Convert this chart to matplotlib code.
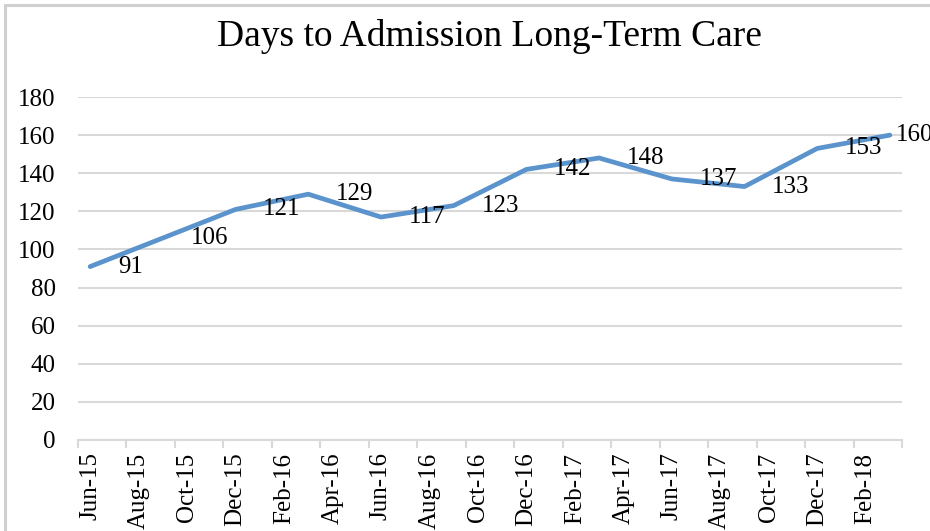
import matplotlib
matplotlib.use("Agg")
import matplotlib.pyplot as plt
from matplotlib.patches import Rectangle
import numpy as np

# ---- data ----
months = ["Jun-15", "Jul-15", "Aug-15", "Sep-15", "Oct-15", "Nov-15", "Dec-15",
          "Jan-16", "Feb-16", "Mar-16", "Apr-16", "May-16", "Jun-16", "Jul-16",
          "Aug-16", "Sep-16", "Oct-16", "Nov-16", "Dec-16", "Jan-17", "Feb-17",
          "Mar-17", "Apr-17", "May-17", "Jun-17", "Jul-17", "Aug-17", "Sep-17",
          "Oct-17", "Nov-17", "Dec-17", "Jan-18", "Feb-18", "Mar-18"]
point_months = ["Jun-15", "Sep-15", "Dec-15", "Mar-16", "Jun-16", "Sep-16",
                "Dec-16", "Mar-17", "Jun-17", "Sep-17", "Dec-17", "Mar-18"]
days = [91, 106, 121, 129, 117, 123, 142, 148, 137, 133, 153, 160]
tick_labels = months[::2]
y_ticks = [0, 20, 40, 60, 80, 100, 120, 140, 160, 180]
title = "Days to Admission Long-Term Care"

# ---- figure ----
W, H = 930, 531
fig = plt.figure(figsize=(W / 100, H / 100), dpi=100)
serif = ["Liberation Serif", "DejaVu Serif"]

# chart border
fig.patches.append(Rectangle((5 / W, -0.1), 1.2, 1 - 5 / H + 0.1,
                             transform=fig.transFigure, fill=False,
                             edgecolor="#d0d0d0", linewidth=2.2, zorder=0))

ax = fig.add_axes([78 / W, 1 - 440 / H, (902 - 78) / W, (440 - 97) / H])

x = np.array([months.index(m) for m in point_months])
ax.plot(x, days, color="#5b93cd", linewidth=3.4, solid_capstyle="round",
        solid_joinstyle="round", zorder=3, clip_on=False)

for i, (xi, v) in enumerate(zip(x, days)):
    off = 4 if i == len(days) - 1 else 20
    ax.annotate(str(v), (xi, v), xytext=(off, 0), textcoords="offset points",
                ha="left", va="center", fontsize=18, family=serif,
                color="black", annotation_clip=False, zorder=4)

ax.set_xlim(-0.5, len(months) - 0.5)
ax.set_ylim(0, 180)
ax.set_yticks(y_ticks)
ax.set_yticklabels([str(t) for t in y_ticks], family=serif, fontsize=18)

ax.set_xticks(np.arange(0, len(months), 2))
ax.set_xticklabels(tick_labels, rotation=90, family=serif, fontsize=18)
ax.tick_params(axis="x", which="major", length=0, pad=9)
ax.set_xticks(np.arange(-0.5, len(months), 2), minor=True)
ax.tick_params(axis="x", which="minor", length=6, width=1.5, color="#d9d9d9",
               direction="out")
ax.tick_params(axis="y", length=0, pad=16)

ax.grid(axis="y", color="#d9d9d9", linewidth=1.5)
ax.set_axisbelow(True)
for s in ["top", "right", "left"]:
    ax.spines[s].set_visible(False)
ax.spines["bottom"].set_color("#d9d9d9")
ax.spines["bottom"].set_linewidth(1.5)

fig.text(489 / W, 1 - 36 / H, title, ha="center", va="center",
         fontsize=27, family=serif, color="black")

fig.savefig("out.png", dpi=100)
